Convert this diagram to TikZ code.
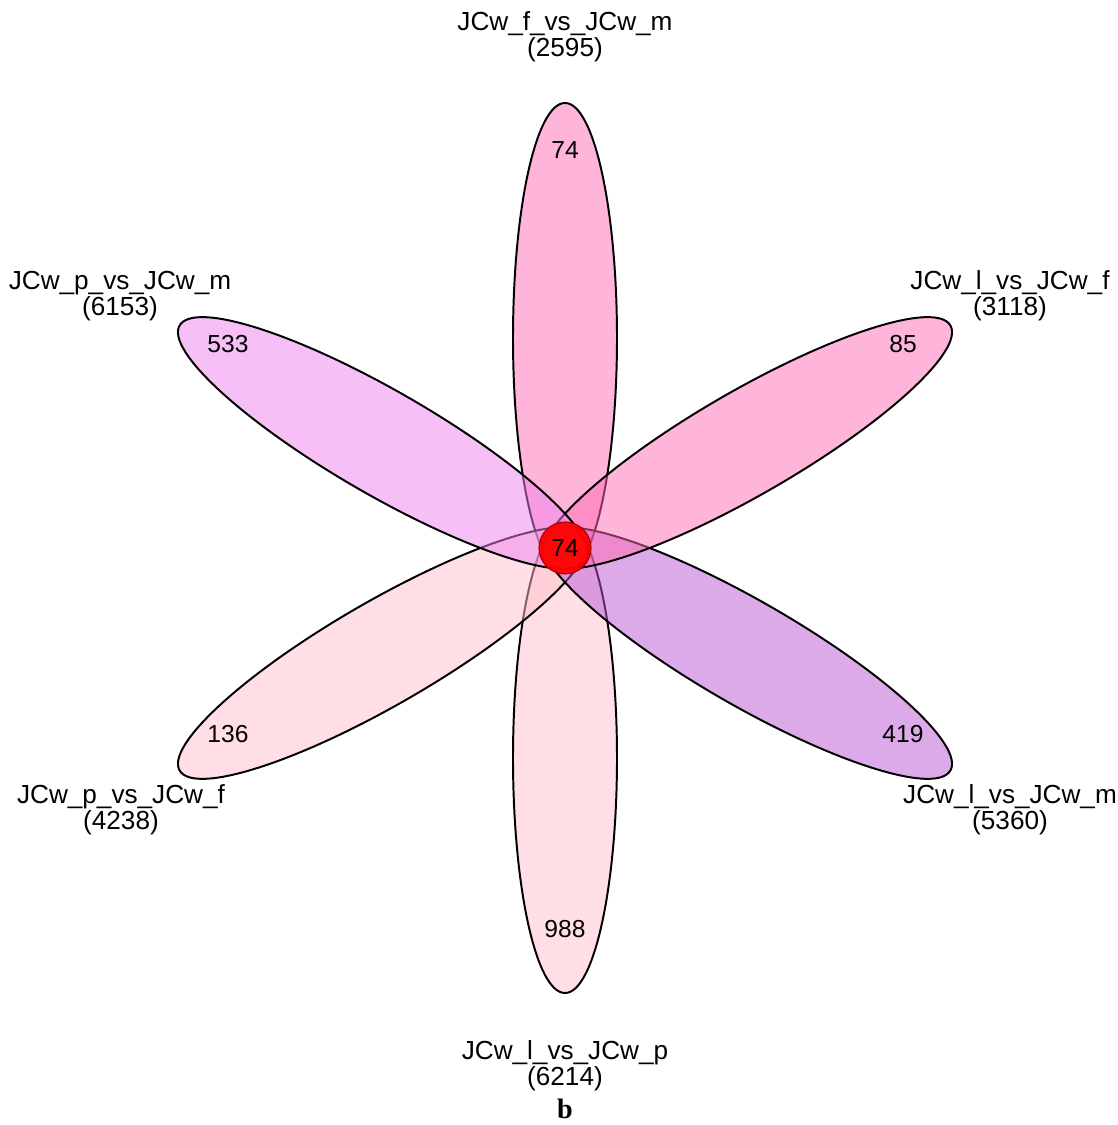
\documentclass[tikz,border=0pt]{standalone}
\usepackage{fontspec}
\setmainfont{Liberation Sans}
\newfontfamily\tagfont{Liberation Serif}
\usepackage{tikz}
\usetikzlibrary{positioning}
\usepackage{xcolor}
\definecolor{hotpk}{RGB}{255,105,180}
\definecolor{softpk}{RGB}{255,192,203}
\definecolor{violetpk}{RGB}{238,130,238}
\definecolor{orchid}{RGB}{186,85,211}

\begin{document}
\begin{tikzpicture}[
  x=0.025cm, y=0.025cm,
  petal/.style  = {draw=black, line width=1.4pt, fill opacity=0.5},
  core/.style   = {circle, draw=red!70!black, line width=0.8pt, fill=red,
                   fill opacity=0.95, text opacity=1, minimum size=1.3cm,
                   inner sep=0pt, font=\fontsize{17.5}{19}\selectfont},
  cnt/.style    = {font=\fontsize{17.5}{19}\selectfont, inner sep=1pt},
  setlbl/.style = {font=\fontsize{18.6}{18.8}\selectfont, align=center, inner sep=1pt},
]
\useasboundingbox (0,0) rectangle (1118,1125);
\coordinate (ctr) at (565,577);

% ---------------- petals -------------------------------------------------
\begin{scope}[shift={(ctr)}]
  \foreach \ang/\col in {90/hotpk, 270/softpk, 210/softpk, 330/orchid,
                         30/hotpk, 150/violetpk}
    \draw[petal, fill=\col, rotate=\ang] (210,0) ellipse [x radius=235, y radius=52];
\end{scope}

% ---------------- unique counts ------------------------------------------
\node[cnt] (fm)  at (565,975) {74};
\node[cnt] (lf)  at (903,781) {85};
\node[cnt] (lm)  at (903,391) {419};
\node[cnt] (lp)  at (565,196) {988};
\node[cnt] (pf)  at (228,391) {136};
\node[cnt] (pm)  at (228,781) {533};

% ---------------- shared core --------------------------------------------
\node[core] (all) at (ctr) {74};

% ---------------- set names ----------------------------------------------
\node[setlbl] (fmlbl) at (565,1088) {JCw\_f\_vs\_JCw\_m\\(2595)};
\node[setlbl] (lflbl) at (1010,829) {JCw\_l\_vs\_JCw\_f\\(3118)};
\node[setlbl] (lmlbl) at (1010,315) {JCw\_l\_vs\_JCw\_m\\(5360)};
\node[setlbl] (lplbl) at (565,59)   {JCw\_l\_vs\_JCw\_p\\(6214)};
\node[setlbl] (pflbl) at (121,315)  {JCw\_p\_vs\_JCw\_f\\(4238)};
\node[setlbl] (pmlbl) at (120,829)  {JCw\_p\_vs\_JCw\_m\\(6153)};

\node[inner sep=0pt, font=\tagfont\bfseries\fontsize{20}{22}\selectfont] (tag) at (565,16) {b};

\end{tikzpicture}
\end{document}
